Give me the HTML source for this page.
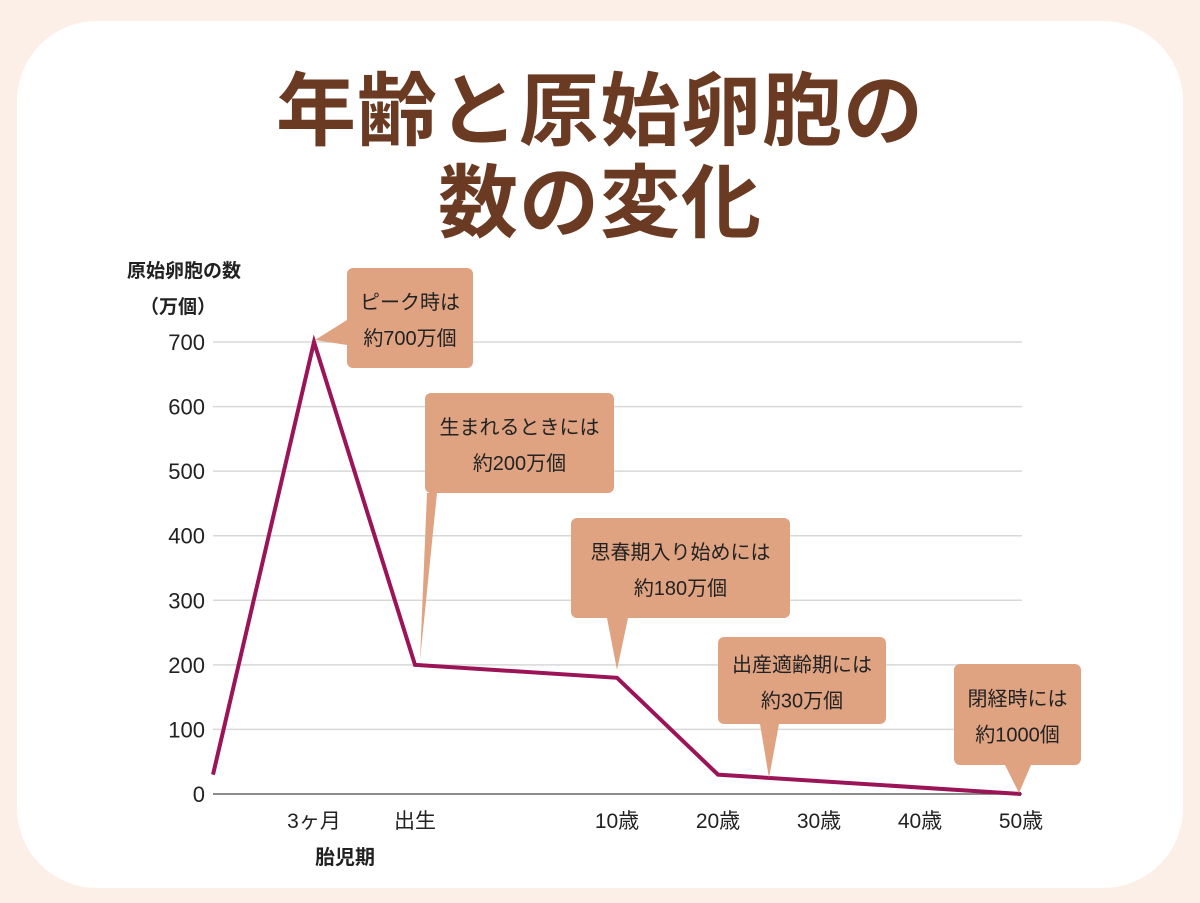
<!DOCTYPE html>
<html lang="ja"><head><meta charset="utf-8">
<style>
html,body{margin:0;padding:0;}
body{width:1200px;height:903px;background:#fcefe8;position:relative;overflow:hidden;font-family:"Liberation Sans","Noto Sans CJK JP",sans-serif;}
.card{position:absolute;left:17px;top:21px;width:1166px;height:867px;background:#fff;border-radius:80px;}
.title{position:absolute;left:0;width:1200px;text-align:center;color:#6b3a22;font-weight:bold;font-size:80px;line-height:92px;top:66px;letter-spacing:1px;}
svg{position:absolute;left:0;top:0;}
</style></head><body>
<div class="card"></div>
<div class="title">年齢と原始卵胞の<br>数の変化</div>
<svg id="chart" width="1200" height="903"></svg>
<script>
const categories=["","3ヶ月","出生","","10歳","20歳","30歳","40歳","50歳"];
const pointIndex=[0,1,2,4,5,8];
const pointValues=[30,700,200,180,30,0];
const yTicks=[0,100,200,300,400,500,600,700];
const callouts=[
 {lines:["ピーク時は","約700万個"]},
 {lines:["生まれるときには","約200万個"]},
 {lines:["思春期入り始めには","約180万個"]},
 {lines:["出産適齢期には","約30万個"]},
 {lines:["閉経時には","約1000個"]}
];
const NS="http://www.w3.org/2000/svg";
const svg=document.getElementById('chart');
const x=i=>213+101*i;
const y=v=>794-v*(452/700);
function mk(t,a,txt){const e=document.createElementNS(NS,t);for(const k in a)e.setAttribute(k,a[k]);if(txt!==undefined)e.textContent=txt;svg.appendChild(e);return e;}
yTicks.forEach(v=>{
 const g=mk('line',{x1:213,x2:1022,y1:y(v),y2:y(v),stroke:v===0?'#666':'#d8d8d8','stroke-width':1.5});
 
 
 const t=mk('text',{x:205,y:y(v)+8,'text-anchor':'end','font-size':22,fill:'#222'},String(v));
 
 
});
categories.forEach((c,i)=>{
 if(!c)return;
 const t=mk('text',{x:x(i),y:828,'text-anchor':'middle','font-size':21,fill:'#222'},c);
 
 
});
let t=mk('text',{x:345,y:864,'text-anchor':'middle','font-size':20,'font-weight':'bold',fill:'#222'},'胎児期');


t=mk('text',{x:127,y:277,'font-size':19,'font-weight':'bold',fill:'#222'},'原始卵胞の数');


t=mk('text',{x:140,y:313,'font-size':19,'font-weight':'bold',fill:'#222'},'（万個）');


const pts=pointIndex.map((ix,k)=>x(ix)+','+y(pointValues[k])).join(' ');
const line=mk('polyline',{points:pts,fill:'none',stroke:'#9b1458','stroke-width':4,'stroke-linejoin':'miter'});


const boxes=[
 {bx:347,by:268,bw:126,bh:100,tip:[315,340],base:[[347,320],[347,345]]},
 {bx:425,by:393,bw:189,bh:100,tip:[420,660],base:[[427,493],[437,493]]},
 {bx:571,by:518,bw:219,bh:100,tip:[617,670],base:[[607,618],[628,618]]},
 {bx:718,by:637,bw:168,bh:87,tip:[769,778],base:[[760,724],[779,724]]},
 {bx:954,by:664,bw:127,bh:101,tip:[1019,793],base:[[1005,765],[1031,765]]}
];
const fill='#dfa382';
boxes.forEach((b,i)=>{
 const r=mk('rect',{x:b.bx,y:b.by,width:b.bw,height:b.bh,rx:6,fill:fill});
 
 
 const p=mk('polygon',{points:b.tip.join(',')+' '+b.base.map(q=>q.join(',')).join(' '),fill:fill});
 
 
 const cx=b.bx+b.bw/2, cy=b.by+b.bh/2;
 callouts[i].lines.forEach((s,j)=>{
  const tt=mk('text',{x:cx,y:cy-9+j*36,'text-anchor':'middle','font-size':20,fill:'#222'},s);
  
  
 });
});
</script>
</body></html>
